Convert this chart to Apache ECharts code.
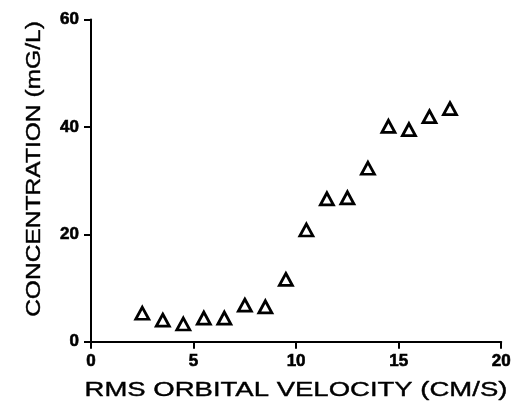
<!DOCTYPE html>
<html>
<head>
<meta charset="utf-8">
<script src="https://cdn.jsdelivr.net/npm/echarts@6/dist/echarts.min.js"></script>
<style>
  html, body { margin: 0; padding: 0; background: #fff; }
  #chart { width: 514px; height: 405px; }
</style>
</head>
<body>
<div id="chart"></div>
<script>
// RMS orbital velocity (cm/s) and measured concentration (mg/L)
const velocity = [2.5, 3.5, 4.5, 5.5, 6.5, 7.5, 8.5, 9.5, 10.5, 11.5, 12.5, 13.5, 14.5, 15.5, 16.5, 17.5];
const concentration = [5.3, 4.0, 3.3, 4.4, 4.4, 6.8, 6.5, 11.6, 20.8, 26.6, 26.8, 32.3, 40.1, 39.5, 41.9, 43.4];

const xTitle = 'RMS ORBITAL VELOCITY (CM/S)';
const yTitle = 'CONCENTRATION (mG/L)';

const chart = echarts.init(document.getElementById('chart'), null, { renderer: 'canvas' });

const axisCommon = {
  axisLine: { show: true, onZero: false, lineStyle: { color: '#000', width: 2 } },
  axisTick: { show: true, inside: false, length: 7, lineStyle: { color: '#000', width: 2 } },
  axisLabel: {
    color: '#000',
    fontFamily: 'Liberation Sans',
    fontWeight: 'bold',
    fontSize: 17,
    textBorderColor: '#000',
    textBorderWidth: 0.6
  },
  splitLine: { show: false }
};

const titleFont = '21px "Liberation Sans"';

chart.setOption({
  backgroundColor: '#fff',
  animation: false,
  grid: { left: 91, right: 11, top: 19.5, bottom: 63.3, containLabel: false },
  xAxis: Object.assign({}, axisCommon, {
    type: 'value', min: 0, max: 20, interval: 5,
    axisLabel: Object.assign({}, axisCommon.axisLabel, { margin: 11 })
  }),
  yAxis: Object.assign({}, axisCommon, {
    type: 'value', min: 0, max: 60, interval: 20,
    axisLabel: Object.assign({}, axisCommon.axisLabel, { margin: 12 })
  }),
  graphic: [
    {
      type: 'text', x: 296, y: 390, scaleX: 1.31,
      style: {
        text: xTitle, font: titleFont, fill: '#000', stroke: '#000', lineWidth: 0.4,
        align: 'center', verticalAlign: 'middle'
      }
    },
    {
      type: 'text', x: 34.5, y: 169, rotation: Math.PI / 2, scaleX: 1.17,
      style: {
        text: yTitle, font: titleFont, fill: '#000', stroke: '#000', lineWidth: 0.4,
        align: 'center', verticalAlign: 'middle'
      }
    }
  ],
  series: [{
    type: 'scatter',
    data: velocity.map((v, i) => [v, concentration[i]]),
    symbol: 'triangle',
    symbolSize: [13, 12],
    itemStyle: { color: '#fff', borderColor: '#000', borderWidth: 2.8, opacity: 1 }
  }]
});
</script>
</body>
</html>
